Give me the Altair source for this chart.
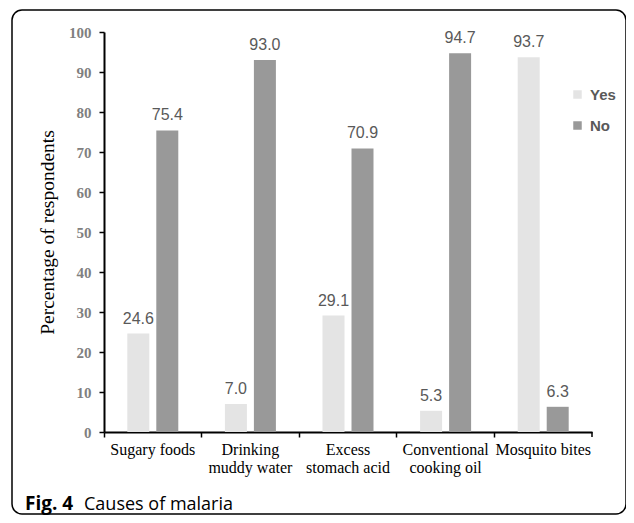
import altair as alt
import pandas as pd

categories = ["Sugary foods", "Drinking|muddy water", "Excess|stomach acid",
              "Conventional|cooking oil", "Mosquito bites"]
series = ["Yes", "No"]
yes_values = [24.6, 7.0, 29.1, 5.3, 93.7]
no_values = [75.4, 93.0, 70.9, 94.7, 6.3]
colors = ["#e4e4e4", "#999999"]
y_ticks = [0, 10, 20, 30, 40, 50, 60, 70, 80, 90, 100]

rows = []
for c, yv, nv in zip(categories, yes_values, no_values):
    rows.append({"cause": c, "response": "Yes", "pct": yv})
    rows.append({"cause": c, "response": "No", "pct": nv})
df = pd.DataFrame(rows)

base = alt.Chart(df).encode(
    x=alt.X("cause:N", sort=categories, title=None,
            scale=alt.Scale(paddingInner=0, paddingOuter=0),
            axis=alt.Axis(labelExpr="split(datum.label, '|')", labelAngle=0,
                          labelFont="Liberation Serif", labelFontSize=16,
                          labelColor="black", labelPadding=4, labelLineHeight=18,
                          tickSize=5, tickColor="black", tickWidth=1.5,
                          bandPosition=0, domainColor="black", domainWidth=2,
                          grid=False, labelBaseline="top")),
    xOffset=alt.XOffset("response:N", sort=series,
                        scale=alt.Scale(paddingInner=0.2414, paddingOuter=0.8036)),
    y=alt.Y("pct:Q", scale=alt.Scale(domain=[0, 100], nice=False),
            title="Percentage of respondents",
            axis=alt.Axis(values=y_ticks, grid=False, tickSize=5, tickColor="black",
                          tickWidth=1.5, domainColor="black", domainWidth=2,
                          labelFont="Liberation Serif", labelFontSize=15,
                          labelFontWeight="bold", labelColor="#808080", labelPadding=8,
                          titleFont="Liberation Serif", titleFontSize=19.5,
                          titleFontWeight="normal", titleColor="black", titlePadding=11)),
)

bars = base.mark_bar().encode(
    color=alt.Color("response:N", sort=series,
                    scale=alt.Scale(domain=series, range=colors),
                    legend=alt.Legend(title=None, orient="none", legendX=466, legendY=55,
                                      direction="vertical", symbolType="square",
                                      symbolSize=72, symbolStrokeWidth=0,
                                      labelFont="Liberation Sans", labelFontWeight="bold",
                                      labelFontSize=15, labelColor="#595959",
                                      rowPadding=15, labelOffset=5, padding=0))
)

labels = base.mark_text(baseline="alphabetic", dy=-10, font="Liberation Sans",
                        fontSize=16, color="#595959").encode(
    text=alt.Text("pct:Q", format=".1f")
)

end_tick = alt.Chart(pd.DataFrame({"a": [0]})).mark_rule(
    color="black", strokeWidth=1.5).encode(
    x=alt.value(488), y=alt.value(400), y2=alt.value(405))

border = alt.Chart(pd.DataFrame({"a": [0]})).mark_rect(
    fill="transparent", stroke="black", strokeWidth=1.5, cornerRadius=10).encode(
    x=alt.value(-92), x2=alt.value(522), y=alt.value(-22), y2=alt.value(482))

cap1 = alt.Chart(pd.DataFrame({"t": ["Fig. 4"]})).mark_text(
    align="left", baseline="alphabetic", font="Open Sans", fontSize=19,
    fontWeight="bold", color="black").encode(
    x=alt.value(-79), y=alt.value(478), text="t:N")

cap2 = alt.Chart(pd.DataFrame({"t": ["Causes of malaria"]})).mark_text(
    align="left", baseline="alphabetic", font="Open Sans", fontSize=18,
    fontWeight="normal", color="black").encode(
    x=alt.value(-20), y=alt.value(478), text="t:N")

chart = alt.layer(border, bars, labels, end_tick, cap1, cap2).properties(
    width=488, height=400,
    padding={"left": 96, "top": 24, "right": 34, "bottom": 83},
    autosize=alt.AutoSizeParams(type="none"),
).configure_view(strokeWidth=0)

chart.save("out.html", embed_options={"renderer": "svg", "actions": False})
